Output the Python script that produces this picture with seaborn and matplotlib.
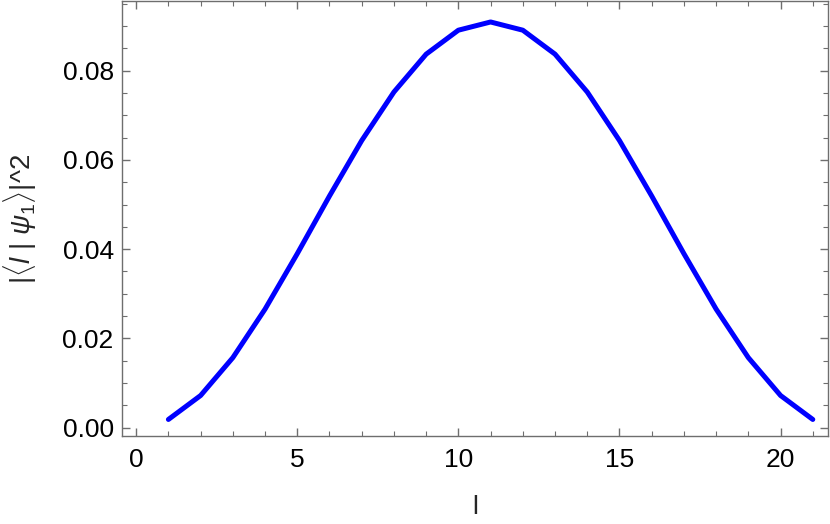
import numpy as np
import pandas as pd
import matplotlib
matplotlib.use("Agg")
import matplotlib.pyplot as plt
import seaborn as sns
from matplotlib.ticker import MultipleLocator

# values
sites = [1, 2, 3, 4, 5, 6, 7, 8, 9, 10, 11, 12, 13, 14, 15, 16, 17, 18, 19, 20, 21]
prob = [0.00184, 0.00721, 0.01569, 0.02657, 0.03899, 0.05192, 0.06434, 0.07522,
        0.08370, 0.08907, 0.09091, 0.08907, 0.08370, 0.07522, 0.06434, 0.05192,
        0.03899, 0.02657, 0.01569, 0.00721, 0.00184]

df = pd.DataFrame({"l": sites, "p": prob})

sns.set_style("ticks")
plt.rcParams["font.family"] = ["Liberation Sans", "DejaVu Sans"]
plt.rcParams["mathtext.fontset"] = "custom"
plt.rcParams["mathtext.rm"] = "Liberation Sans"
plt.rcParams["mathtext.it"] = "Liberation Sans:italic"

frame_col = "#6e6e6e"

fig = plt.figure(figsize=(8.3, 5.24), dpi=100)
ax = fig.add_axes([0.147, 0.168, 0.8505, 0.830])

sns.lineplot(data=df, x="l", y="p", color="#0000ff", linewidth=3.6, ax=ax)

ax.set_xlim(-0.44, 21.47)
ax.set_ylim(-0.00186, 0.0956)

ax.xaxis.set_major_locator(MultipleLocator(5))
ax.xaxis.set_minor_locator(MultipleLocator(1))
ax.yaxis.set_major_locator(MultipleLocator(0.02))
ax.yaxis.set_minor_locator(MultipleLocator(0.005))
ax.yaxis.set_major_formatter(plt.FuncFormatter(lambda v, p: f"{v:.2f}"))

for s in ax.spines.values():
    s.set_color(frame_col)
    s.set_linewidth(1.0)

ax.tick_params(which="both", direction="in", top=True, right=True, color=frame_col,
               labelsize=19, labelcolor="black")
ax.tick_params(which="major", length=6, width=1.0)
ax.tick_params(which="minor", length=3.5, width=0.8)
ax.tick_params(axis="x", which="major", pad=9)
ax.tick_params(axis="y", which="major", pad=6)

ax.set_xlabel("l", fontsize=19, labelpad=16)
ax.set_ylabel(r"|$\langle l\ |\ \psi_1\rangle$|^2", fontsize=20, labelpad=17)

fig.savefig("out.png", dpi=100)
